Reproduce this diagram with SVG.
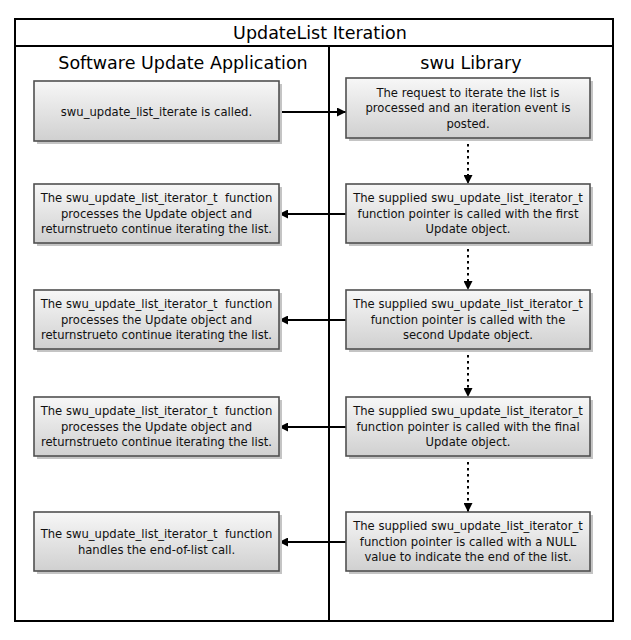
<svg xmlns="http://www.w3.org/2000/svg" width="631" height="640" viewBox="0 0 631 640">
<defs>
<linearGradient id="g" x1="0" y1="0" x2="0" y2="1">
<stop offset="0" stop-color="#f7f7f7"/>
<stop offset="1" stop-color="#d0d0d0"/>
</linearGradient>
<marker id="ah" viewBox="0 0 10 10" refX="10" refY="5" markerWidth="9" markerHeight="9" markerUnits="userSpaceOnUse" orient="auto">
<path d="M0,0 L10,5 L0,10 z" fill="#000"/>
</marker>
</defs>
<style>
.box{fill:url(#g);stroke:#505050;stroke-width:1.6}
.sh{fill:#c4c4c4}
.t{font-family:"DejaVu Sans",sans-serif;font-size:11.6px;fill:#111;text-anchor:middle;white-space:pre}
.h{font-family:"DejaVu Sans",sans-serif;font-size:17.5px;fill:#000;text-anchor:middle}
.c{stroke:#000;stroke-width:2;fill:none}
.d{stroke:#000;stroke-width:2;fill:none;stroke-dasharray:2.5 3.5}
</style>
<rect width="631" height="640" fill="#fff"/>
<g id="frame">
<rect x="15" y="19" width="598" height="602" fill="none" stroke="#000" stroke-width="2"/>
<line x1="15" y1="46" x2="613" y2="46" stroke="#000" stroke-width="2"/>
<line x1="329" y1="46" x2="329" y2="621" stroke="#000" stroke-width="2"/>
<text class="h" x="320" y="39">UpdateList Iteration</text>
<text class="h" x="183" y="69">Software Update Application</text>
<text class="h" x="471" y="69">swu Library</text>
</g>
<g id="connectors">
<line class="c" x1="279" y1="112" x2="346" y2="112" marker-end="url(#ah)"/>
<line class="d" x1="468" y1="138" x2="468" y2="184" marker-end="url(#ah)"/>
<line class="d" x1="468" y1="243" x2="468" y2="290" marker-end="url(#ah)"/>
<line class="d" x1="468" y1="349" x2="468" y2="397" marker-end="url(#ah)"/>
<line class="d" x1="468" y1="456" x2="468" y2="512" marker-end="url(#ah)"/>
<line class="c" x1="346" y1="214" x2="279" y2="214" marker-end="url(#ah)"/>
<line class="c" x1="346" y1="320" x2="279" y2="320" marker-end="url(#ah)"/>
<line class="c" x1="346" y1="427" x2="279" y2="427" marker-end="url(#ah)"/>
<line class="c" x1="346" y1="542" x2="279" y2="542" marker-end="url(#ah)"/>
</g>
<g id="a1">
<rect class="sh" x="37" y="84" width="245" height="60"/>
<rect class="box" x="34" y="81" width="245" height="60"/>
<text class="t" x="156.5" y="116">swu_update_list_iterate is called.</text>
</g>
<g id="b1">
<rect class="sh" x="349" y="81" width="244" height="60"/>
<rect class="box" x="346" y="78" width="244" height="60"/>
<text class="t" x="468" y="96.5">The request to iterate the list is</text>
<text class="t" x="468" y="112">processed and an iteration event is</text>
<text class="t" x="468" y="127.5">posted.</text>
</g>
<g id="a2">
<rect class="sh" x="37" y="187" width="245" height="59"/>
<rect class="box" x="34" y="184" width="245" height="59"/>
<text class="t" x="156.5" y="202" xml:space="preserve">The swu_update_list_iterator_t  function</text>
<text class="t" x="156.5" y="217.5">processes the Update object and</text>
<text class="t" x="156.5" y="233">returnstrueto continue iterating the list.</text>
</g>
<g id="b2">
<rect class="sh" x="349" y="187" width="244" height="59"/>
<rect class="box" x="346" y="184" width="244" height="59"/>
<text class="t" x="468" y="202">The supplied swu_update_list_iterator_t</text>
<text class="t" x="468" y="217.5">function pointer is called with the first</text>
<text class="t" x="468" y="233">Update object.</text>
</g>
<g id="a3">
<rect class="sh" x="37" y="293" width="245" height="59"/>
<rect class="box" x="34" y="290" width="245" height="59"/>
<text class="t" x="156.5" y="308" xml:space="preserve">The swu_update_list_iterator_t  function</text>
<text class="t" x="156.5" y="323.5">processes the Update object and</text>
<text class="t" x="156.5" y="339">returnstrueto continue iterating the list.</text>
</g>
<g id="b3">
<rect class="sh" x="349" y="293" width="244" height="59"/>
<rect class="box" x="346" y="290" width="244" height="59"/>
<text class="t" x="468" y="308">The supplied swu_update_list_iterator_t</text>
<text class="t" x="468" y="323.5">function pointer is called with the</text>
<text class="t" x="468" y="339">second Update object.</text>
</g>
<g id="a4">
<rect class="sh" x="37" y="400" width="245" height="59"/>
<rect class="box" x="34" y="397" width="245" height="59"/>
<text class="t" x="156.5" y="415" xml:space="preserve">The swu_update_list_iterator_t  function</text>
<text class="t" x="156.5" y="430.5">processes the Update object and</text>
<text class="t" x="156.5" y="446">returnstrueto continue iterating the list.</text>
</g>
<g id="b4">
<rect class="sh" x="349" y="400" width="244" height="59"/>
<rect class="box" x="346" y="397" width="244" height="59"/>
<text class="t" x="468" y="415">The supplied swu_update_list_iterator_t</text>
<text class="t" x="468" y="430.5">function pointer is called with the final</text>
<text class="t" x="468" y="446">Update object.</text>
</g>
<g id="a5">
<rect class="sh" x="37" y="515" width="245" height="59"/>
<rect class="box" x="34" y="512" width="245" height="59"/>
<text class="t" x="156.5" y="538" xml:space="preserve">The swu_update_list_iterator_t  function</text>
<text class="t" x="156.5" y="553.5">handles the end-of-list call.</text>
</g>
<g id="b5">
<rect class="sh" x="349" y="515" width="244" height="59"/>
<rect class="box" x="346" y="512" width="244" height="59"/>
<text class="t" x="468" y="530">The supplied swu_update_list_iterator_t</text>
<text class="t" x="468" y="545.5">function pointer is called with a NULL</text>
<text class="t" x="468" y="561">value to indicate the end of the list.</text>
</g>
</svg>
